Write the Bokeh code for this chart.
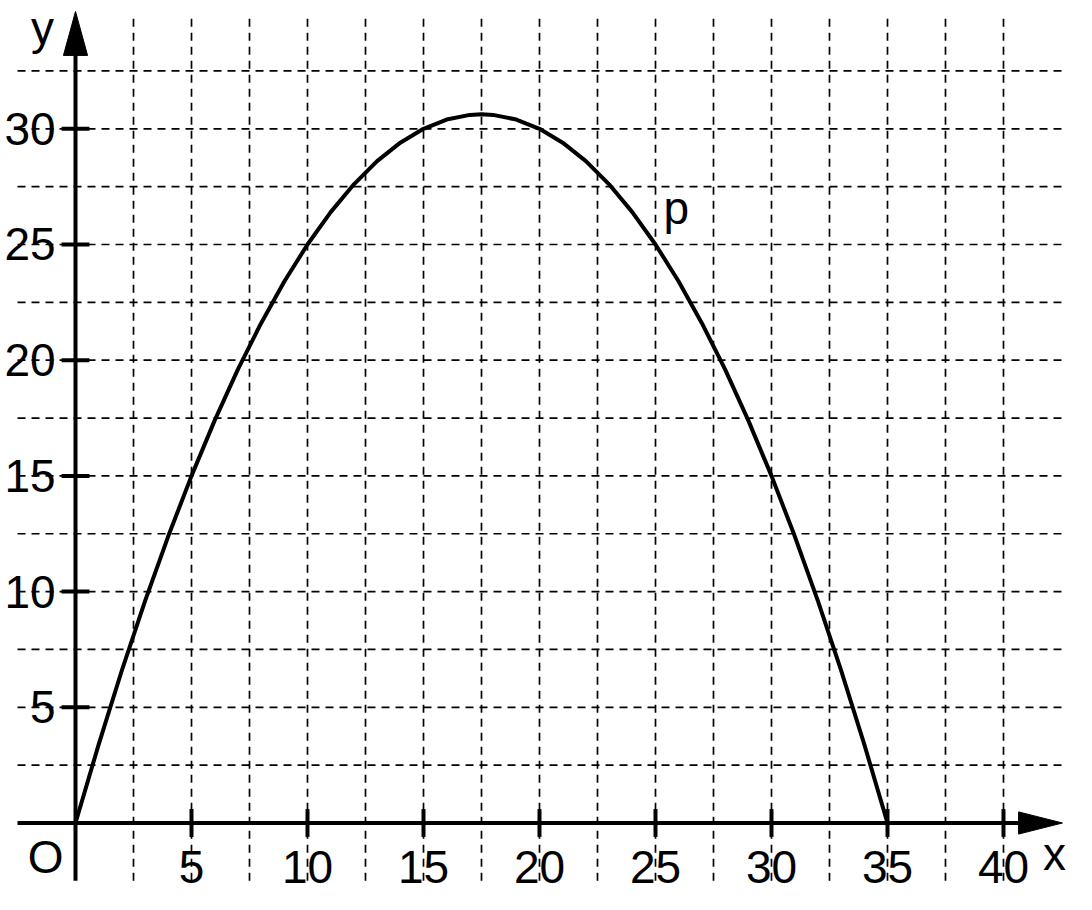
from bokeh.plotting import figure
from bokeh.models import Range1d
from bokeh.core.properties import value
from bokeh.embed import file_html
from bokeh.resources import INLINE

# ---- data ----
curve_x = [0, 1, 2, 3, 4, 5, 6, 7, 8, 9, 10, 11, 12, 13, 14, 15, 16, 17, 17.5,
           18, 19, 20, 21, 22, 23, 24, 25, 26, 27, 28, 29, 30, 31, 32, 33, 34, 35]
curve_y = [0, 3.4, 6.6, 9.6, 12.4, 15, 17.4, 19.6, 21.6, 23.4, 25, 26.4, 27.6, 28.6, 29.4, 30, 30.4, 30.6, 30.625,
           30.6, 30.4, 30, 29.4, 28.6, 27.6, 26.4, 25, 23.4, 21.6, 19.6, 17.4, 15, 12.4, 9.6, 6.6, 3.4, 0]

x_ticks = [5, 10, 15, 20, 25, 30, 35, 40]
x_tick_labels = ["5", "10", "15", "20", "25", "30", "35", "40"]
y_ticks = [5, 10, 15, 20, 25, 30]
y_tick_labels = ["5", "10", "15", "20", "25", "30"]
grid_x = [2.5, 5, 7.5, 10, 12.5, 15, 17.5, 20, 22.5, 25, 27.5, 30, 32.5, 35, 37.5, 40]
grid_y = [2.5, 5, 7.5, 10, 12.5, 15, 17.5, 20, 22.5, 25, 27.5, 30, 32.5]

# ---- layout constants ----
X_MIN, X_MAX = -3.233, 43.147
Y_MIN, Y_MAX = -3.09, 35.544
GRID_X_LO, GRID_X_HI = -2.5, 42.5
GRID_Y_LO, GRID_Y_HI = -2.5, 35.0
AX_X_LO, AX_X_TIP, AX_X_BASE = -2.5, 42.54, 40.65
AX_Y_LO, AX_Y_TIP, AX_Y_BASE = -2.5, 35.07, 33.17
HEAD_HALF_Y = 0.48   # half height of x arrow head (y units)
HEAD_HALF_X = 0.52   # half width of y arrow head (x units)
TICK_HALF_X = 0.6
TICK_HALF_Y = 0.6
FONT = value("Liberation Sans")
FS = "46px"

p = figure(width=1076, height=894, output_backend="svg", toolbar_location=None,
           x_range=Range1d(X_MIN, X_MAX), y_range=Range1d(Y_MIN, Y_MAX),
           min_border=0, min_border_left=0, min_border_right=0,
           min_border_top=0, min_border_bottom=0)
p.xaxis.visible = False
p.yaxis.visible = False
p.grid.visible = False
p.outline_line_color = None
p.background_fill_color = "white"
p.border_fill_color = "white"

# grid
p.segment(x0=grid_x, y0=[GRID_Y_LO] * len(grid_x), x1=grid_x, y1=[GRID_Y_HI] * len(grid_x),
          line_color="black", line_width=1.7, line_dash="8 6")
p.segment(x0=[GRID_X_LO] * len(grid_y), y0=grid_y, x1=[GRID_X_HI] * len(grid_y), y1=grid_y,
          line_color="black", line_width=1.7, line_dash="8 6")

# axes
p.segment(x0=[AX_X_LO], y0=[0], x1=[AX_X_BASE + 0.3], y1=[0], line_color="black", line_width=4)
p.segment(x0=[0], y0=[AX_Y_LO], x1=[0], y1=[AX_Y_BASE + 0.3], line_color="black", line_width=4)
p.patch(x=[AX_X_BASE, AX_X_TIP, AX_X_BASE], y=[HEAD_HALF_Y, 0, -HEAD_HALF_Y],
        fill_color="black", line_color="black", line_width=1)
p.patch(x=[-HEAD_HALF_X, 0, HEAD_HALF_X], y=[AX_Y_BASE, AX_Y_TIP, AX_Y_BASE],
        fill_color="black", line_color="black", line_width=1)

# tick marks
p.segment(x0=x_ticks, y0=[-TICK_HALF_Y] * len(x_ticks), x1=x_ticks, y1=[TICK_HALF_Y] * len(x_ticks),
          line_color="black", line_width=4)
p.segment(x0=[-TICK_HALF_X] * len(y_ticks), y0=y_ticks, x1=[TICK_HALF_X] * len(y_ticks), y1=y_ticks,
          line_color="black", line_width=4)

# curve
p.line(curve_x, curve_y, line_color="black", line_width=4, line_join="round")

# tick labels
p.text(x=x_ticks, y=[-1.92] * len(x_ticks), text=x_tick_labels, text_font=FONT,
       text_font_size=FS, text_align="center", text_baseline="middle", text_color="black")
p.text(x=[-0.86] * len(y_ticks), y=y_ticks, text=y_tick_labels, text_font=FONT,
       text_font_size=FS, text_align="right", text_baseline="middle", text_color="black")

# other labels
p.text(x=[-1.29], y=[-1.49], text=["O"], text_font=FONT, text_font_size=FS,
       text_align="center", text_baseline="middle", text_color="black")
p.text(x=[42.2], y=[-1.36], text=["x"], text_font=FONT, text_font_size=FS,
       text_align="center", text_baseline="middle", text_color="black")
p.text(x=[-1.42], y=[34.36], text=["y"], text_font=FONT, text_font_size=FS,
       text_align="center", text_baseline="middle", text_color="black")
p.text(x=[25.9], y=[26.56], text=["p"], text_font=FONT, text_font_size=FS,
       text_align="center", text_baseline="middle", text_color="black")

open("out.html", "w").write(file_html(p, INLINE))
